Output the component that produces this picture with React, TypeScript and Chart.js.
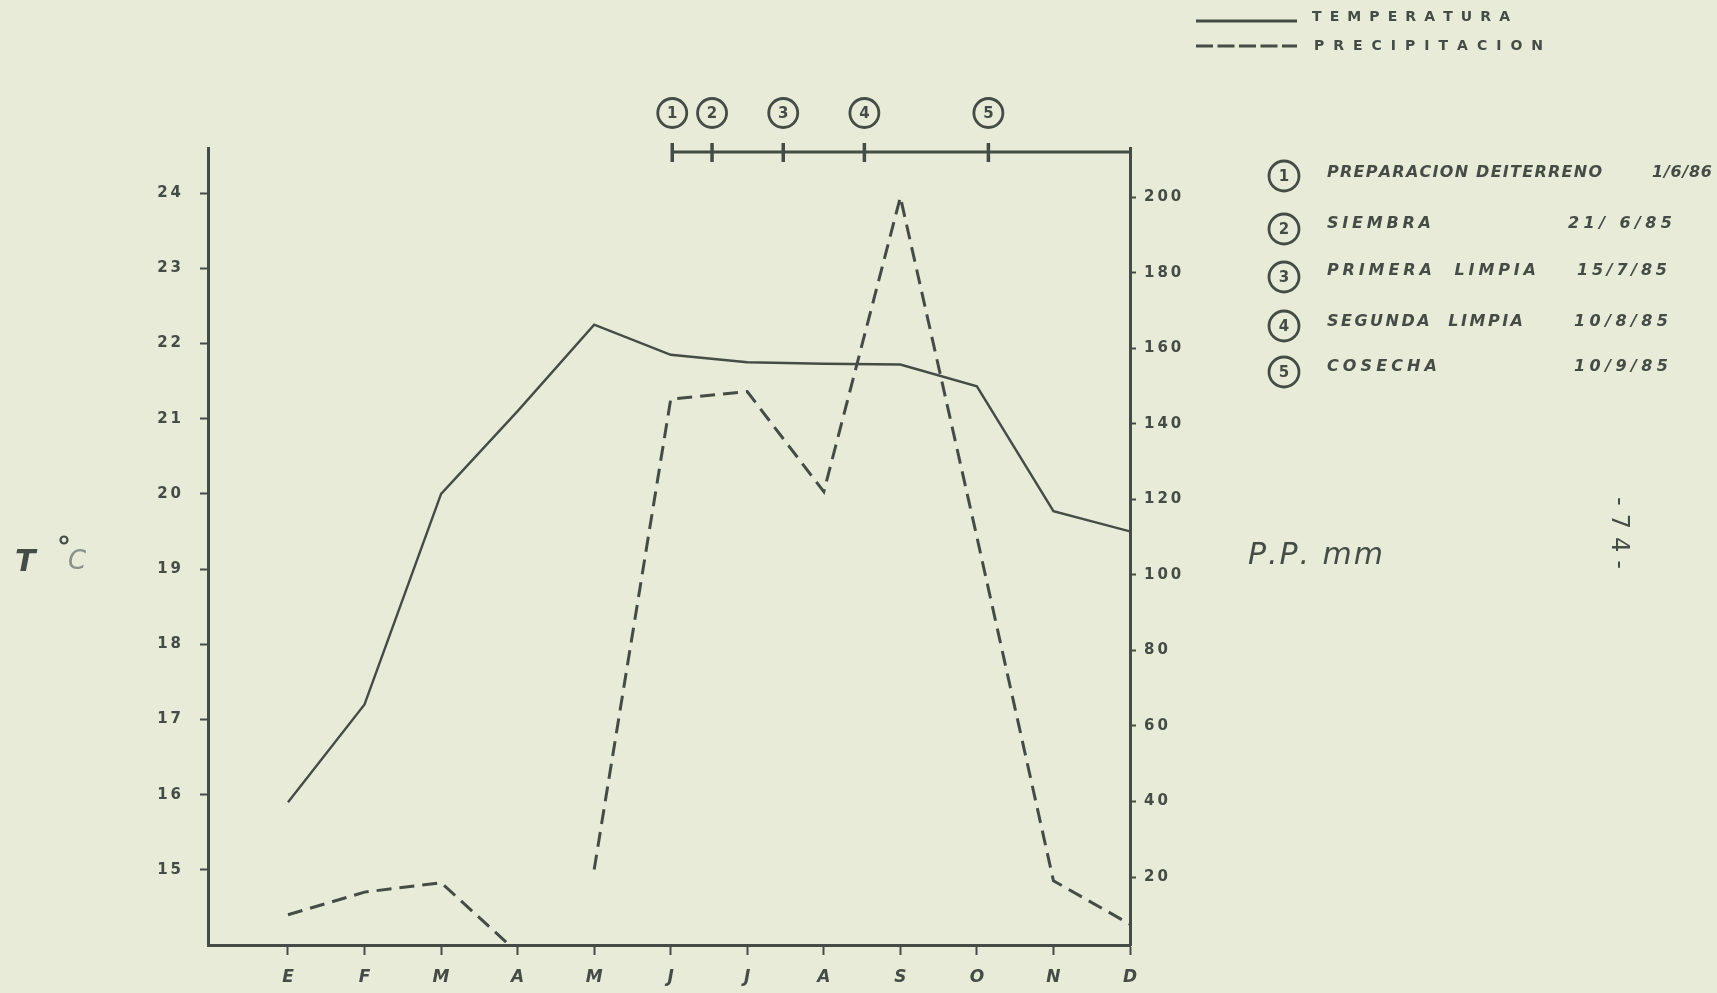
import React, { useEffect, useRef } from 'react';
import { Chart, registerables } from 'chart.js';

Chart.register(...registerables);

// ---------- data ----------
const months = ['E', 'F', 'M', 'A', 'M', 'J', 'J', 'A', 'S', 'O', 'N', 'D'];
const temperature = [15.9, 17.2, 20.0, 21.1, 22.25, 21.85, 21.75, 21.73, 21.72, 21.43, 19.77, 19.5];
const precipitation = [10, 16, 18.5, 0, 22, 146.5, 148.5, 122, 200, 110, 19, 7.5];
const tempTicks = [15, 16, 17, 18, 19, 20, 21, 22, 23, 24];
const ppTicks = [20, 40, 60, 80, 100, 120, 140, 160, 180, 200];
const milestoneLabels = ['1', '2', '3', '4', '5'];
const milestonePositions = [6.02, 6.54, 7.47, 8.53, 10.15];
const activities = ['PREPARACION DEITERRENO', 'SIEMBRA', 'PRIMERA  LIMPIA', 'SEGUNDA  LIMPIA', 'COSECHA'];
const activityDates = ['1/6/86', '21/ 6/85', '15/7/85', '10/8/85', '10/9/85'];
const legendLabels = ['TEMPERATURA', 'PRECIPITACION'];

const INK = '#454c46';
const PAPER = '#e8ebd7';
const FONT = '"DejaVu Sans", sans-serif';

function fitText(ctx: CanvasRenderingContext2D, text: string, x0: number, width: number, y: number, font: string) {
  ctx.font = font;
  const chars = Array.from(text);
  const widths = chars.map((c) => ctx.measureText(c).width);
  const natural = widths.reduce((a, b) => a + b, 0);
  const gap = chars.length > 1 ? (width - natural) / (chars.length - 1) : 0;
  let x = x0;
  ctx.textAlign = 'left';
  ctx.textBaseline = 'middle';
  chars.forEach((c, i) => {
    ctx.fillText(c, x, y);
    x += widths[i] + gap;
  });
}

function spaced(v: number | string) {
  return Array.from(String(v)).join('\u2009');
}

export default function App() {
  const ref = useRef<HTMLCanvasElement>(null);

  useEffect(() => {
    document.body.style.margin = '0';
    document.body.style.background = PAPER;
    const canvas = ref.current!;

    const decor = {
      id: 'decor',
      beforeDraw(chart: any) {
        const ctx = chart.ctx as CanvasRenderingContext2D;
        ctx.save();
        ctx.fillStyle = PAPER;
        ctx.fillRect(0, 0, chart.width, chart.height);
        ctx.restore();
      },
      afterDraw(chart: any) {
        const ctx = chart.ctx as CanvasRenderingContext2D;
        const xs = chart.scales.x;
        const area = chart.chartArea;
        ctx.save();
        ctx.strokeStyle = INK;
        ctx.fillStyle = INK;
        ctx.lineCap = 'butt';

        const seg = (x1: number, y1: number, x2: number, y2: number, w: number) => {
          ctx.lineWidth = w;
          ctx.beginPath();
          ctx.moveTo(x1, y1);
          ctx.lineTo(x2, y2);
          ctx.stroke();
        };
        const circ = (cx: number, cy: number, r: number, label: string) => {
          ctx.lineWidth = 2.8;
          ctx.beginPath();
          ctx.arc(cx, cy, r, 0, Math.PI * 2);
          ctx.stroke();
          ctx.font = `bold 15px ${FONT}`;
          ctx.textAlign = 'center';
          ctx.textBaseline = 'middle';
          ctx.fillText(label, cx, cy + 1);
        };

        // timeline of field activities
        const ty = area.top + 4;
        const tx0 = xs.getPixelForValue(milestonePositions[0]);
        seg(tx0, ty, area.right, ty, 3);
        milestonePositions.forEach((p, i) => {
          const px = xs.getPixelForValue(p);
          seg(px, ty - 9, px, ty + 10, 3.5);
          circ(px, 113, 14.5, milestoneLabels[i]);
        });

        // right-hand activity list
        const rowY = [176, 229, 277, 326, 372];
        const textY = [173, 224, 271, 322, 367];
        const nameW = [275, 104, 209, 196, 110];
        const dateX = [1652, 1568, 1577, 1574, 1574];
        const dateW = [60, 104, 90, 94, 94];
        const f = `italic bold 16px ${FONT}`;
        activities.forEach((a, i) => {
          circ(1284, rowY[i], 15, milestoneLabels[i]);
          fitText(ctx, a, 1327, nameW[i], textY[i], f);
          fitText(ctx, activityDates[i], dateX[i], dateW[i], textY[i], f);
        });

        // top legend
        seg(1196, 21, 1297, 21, 3.2);
        ctx.setLineDash([17, 4.5]);
        seg(1196, 46, 1297, 46, 3.2);
        ctx.setLineDash([]);
        fitText(ctx, legendLabels[0], 1312, 198, 17, `bold 14px ${FONT}`);
        fitText(ctx, legendLabels[1], 1314, 229, 46, `bold 14px ${FONT}`);

        // axis titles
        ctx.font = `italic bold 30px ${FONT}`;
        ctx.textAlign = 'left';
        ctx.textBaseline = 'alphabetic';
        ctx.fillText('T', 15, 571);
        ctx.lineWidth = 2.2;
        ctx.beginPath();
        ctx.arc(64, 540, 3.5, 0, Math.PI * 2);
        ctx.stroke();
        ctx.fillStyle = '#8b9088';
        ctx.font = `italic 26px ${FONT}`;
        ctx.fillText('C', 68, 569);
        ctx.fillStyle = INK;
        fitText(ctx, 'P.P. mm', 1248, 135, 556, `italic 30px ${FONT}`);

        // page number (rotated)
        ctx.save();
        ctx.translate(1618, 533);
        ctx.rotate(Math.PI / 2);
        fitText(ctx, '-74-', -36, 72, 0, `24px ${FONT}`);
        ctx.restore();

        ctx.restore();
      },
    };

    const chart = new Chart(canvas, {
      type: 'line',
      data: {
        datasets: [
          {
            label: legendLabels[0],
            data: months.map((_, i) => ({ x: i + 1, y: temperature[i] })),
            yAxisID: 'y',
            borderColor: INK,
            borderWidth: 2.4,
            pointRadius: 0,
            tension: 0,
          },
          {
            label: legendLabels[1],
            data: months.map((_, i) => ({ x: i + 1, y: precipitation[i] })),
            yAxisID: 'y2',
            borderColor: INK,
            borderWidth: 3,
            borderDash: [15, 8],
            pointRadius: 0,
            tension: 0,
            segment: {
              borderColor: (c: any) => (c.p0DataIndex === 3 ? 'rgba(0,0,0,0)' : INK),
            },
          },
        ],
      },
      options: {
        responsive: false,
        animation: false,
        layout: { padding: { top: 148, left: 0, right: 0, bottom: 0 } },
        plugins: { legend: { display: false }, tooltip: { enabled: false } },
        scales: {
          x: {
            type: 'linear',
            min: -0.045,
            max: 12,
            afterBuildTicks: (s: any) => {
              s.ticks = months.map((_, i) => ({ value: i + 1 }));
            },
            afterFit: (s: any) => {
              s.height = 48;
            },
            ticks: {
              autoSkip: false,
              maxRotation: 0,
              padding: 12,
              color: INK,
              font: { family: FONT, size: 17, style: 'italic', weight: 'bold' },
              callback: (v: any) => months[Number(v) - 1] ?? '',
            },
            grid: { drawOnChartArea: false, tickLength: 10, tickColor: INK, tickWidth: 2 },
            border: { color: INK, width: 3 },
          },
          y: {
            position: 'left',
            min: 14,
            max: 24.6,
            afterBuildTicks: (s: any) => {
              s.ticks = tempTicks.map((v) => ({ value: v }));
            },
            afterFit: (s: any) => {
              s.width = 208;
            },
            ticks: {
              padding: 19,
              color: INK,
              font: { family: FONT, size: 15, weight: 'bold' },
              callback: (v: any) => spaced(v),
            },
            grid: { drawOnChartArea: false, tickLength: 8, tickColor: INK, tickWidth: 2 },
            border: { color: INK, width: 3 },
          },
          y2: {
            position: 'right',
            min: 2,
            max: 213,
            afterBuildTicks: (s: any) => {
              s.ticks = ppTicks.map((v) => ({ value: v }));
            },
            afterFit: (s: any) => {
              s.width = 587;
            },
            ticks: {
              padding: 8,
              color: INK,
              font: { family: FONT, size: 15, weight: 'bold' },
              callback: (v: any) => spaced(v),
            },
            grid: { drawOnChartArea: false, tickLength: 6, tickColor: INK, tickWidth: 2 },
            border: { color: INK, width: 3 },
          },
        },
      },
      plugins: [decor],
    } as any);

    return () => chart.destroy();
  }, []);

  return (
    <div style={{ width: 1717, height: 993, background: PAPER }}>
      <canvas ref={ref} width={1717} height={993} style={{ display: 'block' }} />
    </div>
  );
}
